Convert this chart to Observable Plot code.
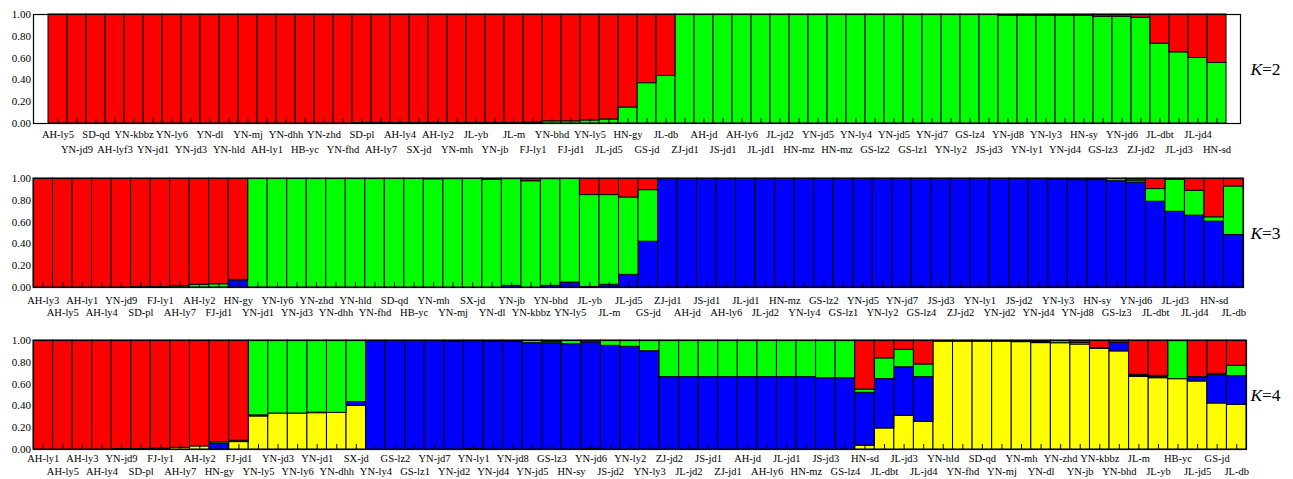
<!DOCTYPE html>
<html><head><meta charset="utf-8">
<script src="https://cdn.jsdelivr.net/npm/d3@7"></script>
<script src="https://cdn.jsdelivr.net/npm/@observablehq/plot@0.6"></script>
<style>
body{margin:0;background:#fff;}
svg{display:block;}
#chart{width:1293px;}
#chart svg, #chart svg text{font-family:"Liberation Serif","Times New Roman",serif !important;}
</style>
</head><body><div id="chart"></div>
<script>
// ---------- K = 2 ----------
const k2Labels = ["AH-ly5","YN-jd9","SD-qd","AH-lyf3","YN-kbbz","YN-jd1","YN-ly6","YN-jd3","YN-dl","YN-hld",
"YN-mj","AH-ly1","YN-dhh","HB-yc","YN-zhd","YN-fhd","SD-pl","AH-ly7","AH-ly4","SX-jd",
"AH-ly2","YN-mh","JL-yb","YN-jb","JL-m","FJ-ly1","YN-bhd","FJ-jd1","YN-ly5","JL-jd5",
"HN-gy","GS-jd","JL-db","ZJ-jd1","AH-jd","JS-jd1","AH-ly6","JL-jd1","JL-jd2","HN-mz",
"YN-jd5","HN-mz","YN-ly4","GS-lz2","YN-jd5","GS-lz1","YN-jd7","YN-ly2","GS-lz4","JS-jd3",
"YN-jd8","YN-ly1","YN-ly3","YN-jd4","HN-sy","GS-lz3","YN-jd6","ZJ-jd2","JL-dbt","JL-jd3",
"JL-jd4","HN-sd"];
const k2Green = [0,0,0,0,0,0,0,0,0,0,
0,0,0,0,0,0,0.004,0.004,0.004,0.004,
0.004,0.004,0.004,0.004,0.004,0.009,0.02,0.02,0.028,0.037,
0.147,0.37,0.436,1,1,1,1,1,1,1,
1,1,1,1,1,1,1,1,1,1,
0.99,0.99,0.99,0.99,0.99,0.98,0.98,0.97,0.733,0.653,
0.601,0.555];
const k2Red = [1,1,1,1,1,1,1,1,1,1,
1,1,1,1,1,1,0.996,0.996,0.996,0.996,
0.996,0.996,0.996,0.996,0.996,0.991,0.98,0.98,0.972,0.963,
0.853,0.63,0.564,0,0,0,0,0,0,0,
0,0,0,0,0,0,0,0,0,0,
0.01,0.01,0.01,0.01,0.01,0.02,0.02,0.03,0.267,0.347,
0.399,0.445];

// ---------- K = 3 ----------
const k3Labels = ["AH-ly3","AH-ly5","AH-ly1","AH-ly4","YN-jd9","SD-pl","FJ-ly1","AH-ly7","AH-ly2","FJ-jd1",
"HN-gy","YN-jd1","YN-ly6","YN-jd3","YN-zhd","YN-dhh","YN-hld","YN-fhd","SD-qd","HB-yc",
"YN-mh","YN-mj","SX-jd","YN-dl","YN-jb","YN-kbbz","YN-bhd","YN-ly5","JL-yb","JL-m",
"JL-jd5","GS-jd","ZJ-jd1","AH-jd","JS-jd1","AH-ly6","JL-jd1","JL-jd2","HN-mz","YN-ly4",
"GS-lz2","GS-lz1","YN-jd5","YN-ly2","YN-jd7","GS-lz4","JS-jd3","ZJ-jd2","YN-ly1","YN-jd2",
"JS-jd2","YN-jd4","YN-ly3","YN-jd8","HN-sy","GS-lz3","YN-jd6","JL-dbt","JL-jd3","JL-jd4",
"HN-sd","JL-db"];
const k3Blue = [0,0,0,0,0,0,0,0,0,0,
0.065,0,0,0,0,0,0,0,0,0,
0,0,0,0,0.015,0,0.015,0.045,0.005,0.025,
0.116,0.42,1,1,1,1,1,1,1,1,
1,1,1,1,1,1,1,1,1,1,
0.995,0.995,0.99,0.985,0.985,0.975,0.963,0.787,0.695,0.659,
0.604,0.482];
const k3Green = [0,0,0,0,0,0.003,0.005,0.012,0.025,0.03,
0.005,1,1,1,1,1,1,1,1,1,
0.993,0.995,1,0.99,0.98,0.975,0.98,0.955,0.843,0.823,
0.71,0.473,0,0,0,0,0,0,0,0,
0,0,0,0,0,0,0,0,0,0,
0.005,0.005,0.01,0,0,0.02,0.018,0.116,0.293,0.229,
0.04,0.445];
const k3Red = [1,1,1,1,1,0.997,0.995,0.988,0.975,0.97,
0.93,0,0,0,0,0,0,0,0,0,
0.007,0.005,0,0.01,0.005,0.025,0.005,0,0.152,0.152,
0.174,0.107,0,0,0,0,0,0,0,0,
0,0,0,0,0,0,0,0,0,0,
0,0,0,0.015,0.015,0.005,0.019,0.097,0.012,0.112,
0.356,0.073];

// ---------- K = 4 ----------
const k4Labels = ["AH-ly1","AH-ly5","AH-ly3","AH-ly4","YN-jd9","SD-pl","FJ-ly1","AH-ly7","AH-ly2","HN-gy",
"FJ-jd1","YN-ly5","YN-jd3","YN-ly6","YN-jd1","YN-dhh","SX-jd","YN-ly4","GS-lz2","GS-lz1",
"YN-jd7","YN-jd2","YN-ly1","YN-jd4","YN-jd8","YN-jd5","GS-lz3","HN-sy","YN-jd6","JS-jd2",
"YN-ly2","YN-ly3","ZJ-jd2","JL-jd2","JS-jd1","ZJ-jd1","AH-jd","AH-ly6","JL-jd1","HN-mz",
"JS-jd3","GS-lz4","HN-sd","JL-dbt","JL-jd3","JL-jd4","YN-hld","YN-fhd","SD-qd","YN-mj",
"YN-mh","YN-dl","YN-zhd","YN-jb","YN-kbbz","YN-bhd","JL-m","JL-yb","HB-yc","JL-jd5",
"GS-jd","JL-db"];
const k4Yellow = [0,0,0,0,0.005,0.005,0.008,0.015,0.028,0,
0.068,0.303,0.33,0.33,0.333,0.336,0.4,0,0,0,
0,0,0.005,0,0,0,0,0,0.007,0,
0,0,0,0,0,0,0,0,0,0,
0,0,0.035,0.193,0.309,0.254,0.99,0.99,0.99,0.99,
0.985,0.976,0.975,0.963,0.924,0.9,0.667,0.654,0.645,0.624,
0.422,0.41];
const k4Blue = [0,0,0,0,0,0,0,0,0,0.05,
0.012,0.01,0,0,0.005,0,0.035,1,1,1,
1,0.988,0.99,0.988,0.988,0.975,0.975,0.966,0.975,0.951,
0.942,0.902,0.664,0.664,0.664,0.664,0.664,0.664,0.664,0.664,
0.654,0.654,0.485,0.453,0.446,0.41,0,0,0,0,
0,0,0,0,0,0.08,0.012,0.012,0,0.037,
0.26,0.263];
const k4Green = [0,0,0,0,0,0,0,0,0,0.015,
0,0.687,0.67,0.67,0.662,0.664,0.565,0,0,0,
0,0.012,0.005,0.006,0.012,0.025,0.015,0.034,0,0.049,
0.058,0.098,0.336,0.336,0.336,0.336,0.336,0.336,0.336,0.336,
0.346,0.346,0.03,0.19,0.159,0.116,0.005,0.005,0.005,0.005,
0.007,0.009,0.02,0.015,0.006,0,0.006,0.01,0.35,0.003,
0.012,0.095];
const k4Red = [1,1,1,1,0.995,0.995,0.992,0.985,0.972,0.935,
0.92,0,0,0,0,0,0,0,0,0,
0,0,0,0.006,0,0,0.01,0,0.018,0,
0,0,0,0,0,0,0,0,0,0,
0,0,0.45,0.164,0.086,0.22,0.005,0.005,0.005,0.005,
0.008,0.015,0.005,0.022,0.07,0.02,0.315,0.324,0.005,0.336,
0.306,0.232];

const clusterColors = {C_yellow: "#ffff00", C_blue: "#0000ff", C_green: "#00ff00", C_red: "#ff0000"};
const yTicks = [0, 0.2, 0.4, 0.6, 0.8, 1];
const FONT = "Liberation Serif";

function panel({labels, series, names, kValue, height, marginTop, marginBottom, marginRight, row1, row2, kdx}) {
  const idx = d3.range(labels.length);
  const data = [];
  names.forEach((nm, j) => series[j].forEach((v, i) => data.push({bar: i, cluster: nm, value: v})));
  return Plot.plot({
    width: 1293, height, marginLeft: 33, marginRight, marginTop, marginBottom,
    style: {fontFamily: FONT, fontSize: "11px", background: "white", color: "black", overflow: "visible"},
    x: {type: "band", domain: idx, padding: 0, axis: null},
    y: {domain: [0, 1], axis: null},
    color: {type: "ordinal", domain: names, range: names.map(n => clusterColors[n])},
    marks: [
      Plot.barY(data, {x: "bar", y: "value", fill: "cluster", stroke: "black", strokeWidth: 1, inset: 0}),
      Plot.ruleX(idx, {x: d => d, y1: 0, y2: 0.045, stroke: "black", strokeWidth: 1}),
      Plot.frame({stroke: "black", strokeWidth: 1.2}),
      Plot.axisY({ticks: yTicks, tickFormat: d3.format(".2f"), tickSize: 0, tickPadding: 2.5, fontSize: 11, label: null, fontFamily: FONT}),
      Plot.text(idx.filter(i => i % 2 === 0), {x: d => d, frameAnchor: "bottom", dy: row1, text: d => labels[d], fontSize: 10.5, fill: "black", fontFamily: FONT}),
      Plot.text(idx.filter(i => i % 2 === 1), {x: d => d, frameAnchor: "bottom", dy: row2, text: d => labels[d], fontSize: 10.5, fill: "black", fontFamily: FONT}),
      Plot.text(["K"], {frameAnchor: "right", dx: kdx, text: d => d, textAnchor: "start", fontStyle: "italic", fontSize: 17.5, fill: "black", fontFamily: FONT}),
      Plot.text(["=" + kValue], {frameAnchor: "right", dx: kdx + 11.5, text: d => d, textAnchor: "start", fontSize: 17.5, fill: "black", fontFamily: FONT})
    ]
  });
}

const chart = document.getElementById("chart");
chart.append(panel({labels: k2Labels, series: [k2Green, k2Red], names: ["C_green", "C_red"], kValue: 2,
  height: 163, marginTop: 14, marginBottom: 40, marginRight: 53, row1: 14, row2: 29, kdx: 10}));
chart.append(panel({labels: k3Labels, series: [k3Blue, k3Green, k3Red], names: ["C_blue", "C_green", "C_red"], kValue: 3,
  height: 163, marginTop: 15, marginBottom: 39, marginRight: 50, row1: 16, row2: 28, kdx: 7}));
chart.append(panel({labels: k4Labels, series: [k4Yellow, k4Blue, k4Green, k4Red], names: ["C_yellow", "C_blue", "C_green", "C_red"], kValue: 4,
  height: 153, marginTop: 14, marginBottom: 30, marginRight: 47, row1: 12.5, row2: 25, kdx: 4}));
</script>
</body></html>
